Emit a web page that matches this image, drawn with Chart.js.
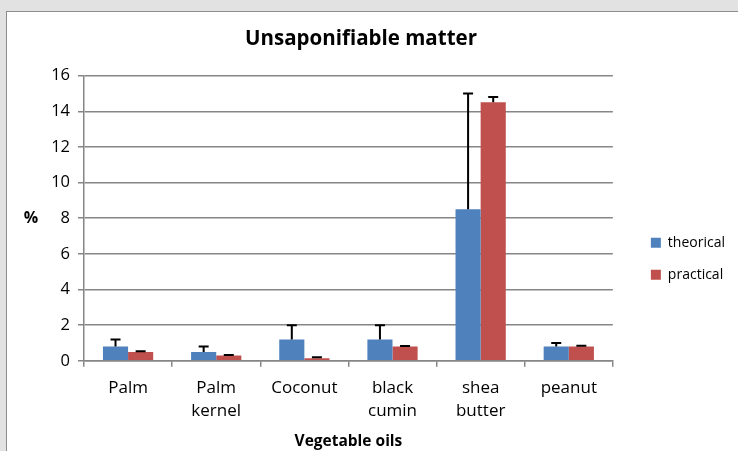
<!DOCTYPE html>
<html>
<head>
    <title>Unsaponifiable matter</title>
    <style>
        body {
            margin: 0;
            background-color: #e2e2e2;
            width: 738px;
            height: 451px;
            overflow: hidden;
        }

        .panel {
            position: absolute;
            left: 6px;
            top: 11px;
            width: 731px;
            height: 439px;
            background-color: white;
            border-left: 1px solid #8c8c8c;
            border-top: 1px solid #8c8c8c;
        }
    </style>
</head>
<body>
    <div class="panel">
        <canvas id="oilChart" width="731" height="439"></canvas>
    </div>

    <script src="https://cdn.jsdelivr.net/npm/chart.js"></script>
    <script>
        // data
        var oils = ["Palm", ["Palm", "kernel"], "Coconut", ["black", "cumin"], ["shea", "butter"], "peanut"];
        var theorical = [0.8, 0.5, 1.2, 1.2, 8.5, 0.8];
        var practical = [0.5, 0.3, 0.15, 0.8, 14.5, 0.8];
        // upper error (added to the bar top)
        var theoricalErr = [0.4, 0.3, 0.8, 0.8, 6.5, 0.2];
        var practicalErr = [0.03, 0.02, 0.05, 0.03, 0.3, 0.04];
        var yTicks = [0, 2, 4, 6, 8, 10, 12, 14, 16];

        var fontName = "'Open Sans', Lato, sans-serif";

        // draws the + error bars with a cap
        var errorBars = {
            id: 'errorBars',
            afterDatasetsDraw: function(chart) {
                var ctx = chart.ctx;
                var y = chart.scales.y;
                ctx.save();
                ctx.strokeStyle = '#000';
                ctx.lineWidth = 2;
                chart.data.datasets.forEach(function(ds, i) {
                    var meta = chart.getDatasetMeta(i);
                    meta.data.forEach(function(bar, j) {
                        var top = y.getPixelForValue(ds.data[j] + ds.errors[j]);
                        ctx.beginPath();
                        ctx.moveTo(bar.x, bar.y);
                        ctx.lineTo(bar.x, top);
                        ctx.moveTo(bar.x - 5, top);
                        ctx.lineTo(bar.x + 5, top);
                        ctx.stroke();
                    });
                });
                ctx.restore();
            }
        };

        // the "%" label sits upright next to the y axis
        var percentLabel = {
            id: 'percentLabel',
            afterDraw: function(chart) {
                var ctx = chart.ctx;
                var area = chart.chartArea;
                ctx.save();
                ctx.font = "bold 16px " + fontName;
                ctx.fillStyle = '#000';
                ctx.textAlign = 'center';
                ctx.textBaseline = 'middle';
                ctx.fillText('%', 24, (area.top + area.bottom) / 2);
                ctx.restore();
            }
        };

        // leave a wider gap between the plot and the legend
        var legendGap = {
            id: 'legendGap',
            afterLayout: function(chart) {
                chart.legend.left += 20;
                chart.legend.right += 20;
            }
        };

        var ctx = document.getElementById('oilChart').getContext('2d');
        var myChart = new Chart(ctx, {
            type: 'bar',
            data: {
                labels: oils,
                datasets: [{
                    label: 'theorical',
                    data: theorical,
                    errors: theoricalErr,
                    backgroundColor: '#4f81bd',
                    borderWidth: 0
                }, {
                    label: 'practical',
                    data: practical,
                    errors: practicalErr,
                    backgroundColor: '#c0504d',
                    borderWidth: 0
                }]
            },
            options: {
                responsive: false,
                animation: false,
                categoryPercentage: 0.57,
                barPercentage: 1.0,
                layout: {
                    padding: { left: 0, right: 23, top: 0, bottom: 0 }
                },
                plugins: {
                    title: {
                        display: true,
                        text: 'Unsaponifiable matter',
                        color: '#000',
                        font: { family: fontName, size: 20.5, weight: 'bold' },
                        padding: { top: 15, bottom: 24 }
                    },
                    legend: {
                        position: 'right',
                        title: {
                            display: true,
                            text: ' ',
                            font: { size: 12 },
                            padding: { top: 0, bottom: 40 }
                        },
                        labels: {
                            color: '#000',
                            boxWidth: 10,
                            boxHeight: 10,
                            padding: 18,
                            font: { family: fontName, size: 14 }
                        }
                    },
                    tooltip: { enabled: false }
                },
                scales: {
                    x: {
                        grid: {
                            offset: true,
                            drawOnChartArea: false,
                            drawTicks: true,
                            tickLength: 6,
                            color: '#868686',
                            lineWidth: 1.5
                        },
                        border: { color: '#868686', width: 1.5 },
                        ticks: {
                            color: '#000',
                            maxRotation: 0,
                            padding: 9,
                            font: { family: fontName, size: 17, lineHeight: 1.4 }
                        },
                        title: {
                            display: true,
                            text: 'Vegetable oils',
                            color: '#000',
                            font: { family: fontName, size: 15.5, weight: 'bold' },
                            padding: { top: 0, bottom: 0 }
                        }
                    },
                    y: {
                        min: 0,
                        max: 16,
                        afterBuildTicks: function(axis) {
                            axis.ticks = yTicks.map(function(v) { return { value: v }; });
                        },
                        afterFit: function(axis) {
                            axis.width = 77;
                        },
                        grid: {
                            color: '#868686',
                            lineWidth: 1.5,
                            tickLength: 6
                        },
                        border: { color: '#868686', width: 1.5 },
                        ticks: {
                            color: '#000',
                            padding: 8,
                            font: { family: fontName, size: 16.5 }
                        }
                    }
                }
            },
            plugins: [errorBars, percentLabel, legendGap]
        });
    </script>
</body>
</html>
